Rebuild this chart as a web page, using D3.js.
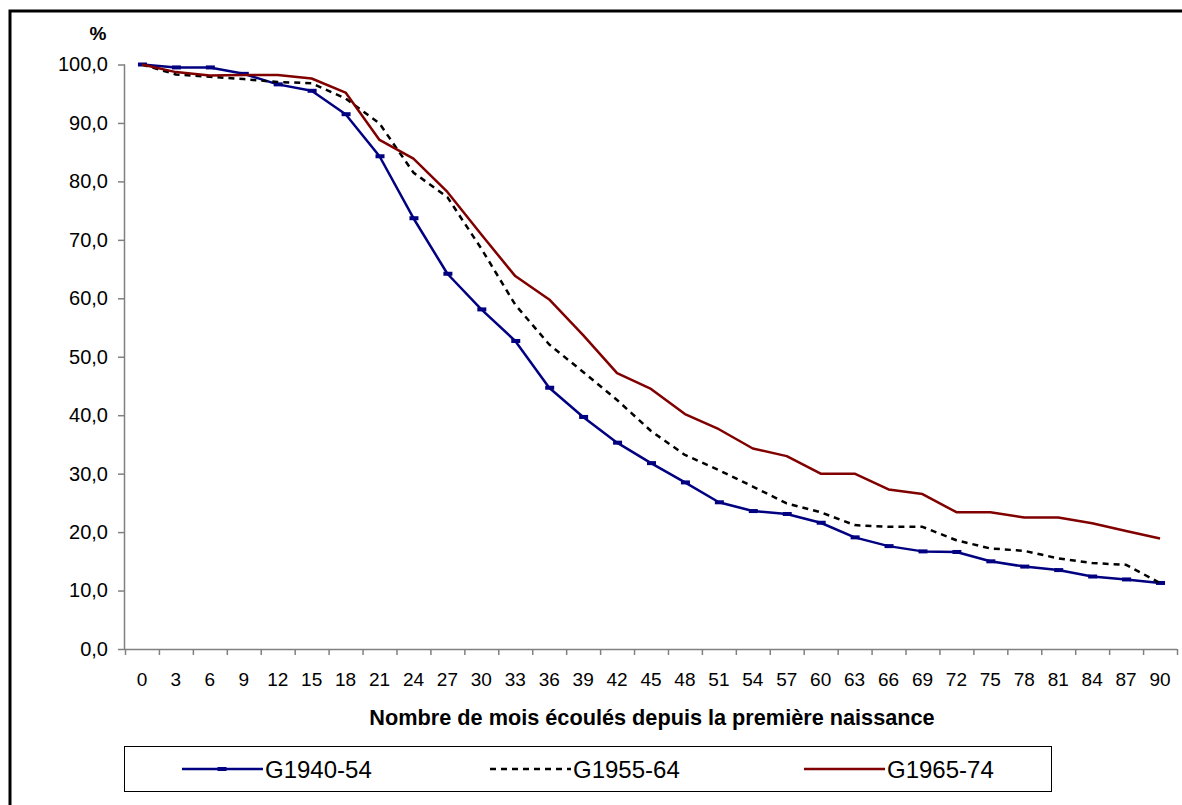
<!DOCTYPE html>
<html>
<head>
<meta charset="utf-8">
<script src="https://cdn.jsdelivr.net/npm/d3@7"></script>
<style>
  html, body { margin: 0; padding: 0; background: #fff; }
  svg { display: block; font-family: "Liberation Sans", Arial, sans-serif; }
</style>
</head>
<body>
<svg id="chart" width="1182" height="805"></svg>
<script>
const months = [0,3,6,9,12,15,18,21,24,27,30,33,36,39,42,45,48,51,54,57,60,63,66,69,72,75,78,81,84,87,90];
const g1940 = [100,99.5,99.5,98.4,96.6,95.5,91.5,84.3,73.7,64.2,58.1,52.7,44.7,39.7,35.3,31.8,28.5,25.1,23.6,23.1,21.6,19.1,17.6,16.7,16.6,15.0,14.1,13.5,12.4,11.9,11.3];
const g1955 = [100,98.3,97.9,97.5,97.0,96.8,94.2,89.9,81.5,77.3,68.5,58.9,52.1,47.4,42.6,37.3,33.2,30.6,27.8,24.9,23.4,21.2,20.9,20.9,18.6,17.2,16.8,15.5,14.7,14.4,11.3];
const g1965 = [100,98.7,98.1,98.2,98.2,97.6,95.2,87.1,83.9,78.2,70.9,63.8,59.8,53.7,47.2,44.5,40.2,37.6,34.3,33.0,30.0,30.0,27.3,26.5,23.4,23.4,22.5,22.5,21.5,20.2,18.9];
const yTicks = [0,10,20,30,40,50,60,70,80,90,100];
const seriesNames = ["G1940-54","G1955-64","G1965-74"];
const xTitle = "Nombre de mois écoulés depuis la première naissance";
const yUnit = "%";

const series = [
  {name: seriesNames[0], values: g1940, color: "#000080", dash: null, marker: true},
  {name: seriesNames[1], values: g1955, color: "#000000", dash: "6,5", marker: false},
  {name: seriesNames[2], values: g1965, color: "#800000", dash: null, marker: false}
];

const svg = d3.select("#chart");
const pLeft = 125, pRight = 1177, pTop = 64.5, pBottom = 649;

// outer frame
svg.append("rect").attr("x", 10).attr("y", 11).attr("width", 1300).attr("height", 1000)
  .attr("fill", "none").attr("stroke", "#000").attr("stroke-width", 3);

const x = d3.scaleBand().domain(months.map(String)).range([pLeft, pRight]).padding(0);
const xi = d3.scaleLinear().domain([0, months.length]).range([pLeft, pRight]);
const y = d3.scaleLinear().domain([0, 100]).range([pBottom, pTop]);

const loc = d3.formatLocale({decimal: ",", thousands: " ", grouping: [3], currency: ["", ""]});
const fmt = loc.format(".1f");

// Y axis
const yAxis = svg.append("g").attr("transform", `translate(${pLeft},0)`)
  .call(d3.axisLeft(y).tickValues(yTicks).tickFormat(fmt).tickSize(7).tickPadding(10));
yAxis.select(".domain").attr("stroke", "#808080").attr("stroke-width", 1.5).attr("d", `M-0.5,${pBottom}V${pTop}`);
yAxis.selectAll(".tick line").attr("stroke", "#808080").attr("stroke-width", 1.5);
yAxis.selectAll(".tick text").attr("font-size", 20).attr("fill", "#000")
  .attr("font-family", "Liberation Sans, Arial, sans-serif");

// X axis tick marks at category boundaries
const xTickAxis = svg.append("g").attr("transform", `translate(0,${pBottom})`)
  .call(d3.axisBottom(xi).tickValues(d3.range(months.length + 1)).tickFormat("").tickSize(6));
xTickAxis.select(".domain").attr("stroke", "#808080").attr("stroke-width", 1.5).attr("d", `M${pLeft},0.5H${pRight}`);
xTickAxis.selectAll(".tick line").attr("stroke", "#808080").attr("stroke-width", 1.5);

// X axis labels at category centres
const xLab = svg.append("g").attr("transform", `translate(0,${pBottom})`)
  .call(d3.axisBottom(x).tickSize(0).tickPadding(24));
xLab.select(".domain").remove();
xLab.selectAll(".tick text").attr("font-size", 19).attr("fill", "#000")
  .attr("font-family", "Liberation Sans, Arial, sans-serif");

// titles
svg.append("text").attr("x", 652).attr("y", 725)
  .attr("text-anchor", "middle").attr("font-weight", "bold").attr("font-size", 21.7)
  .text(xTitle);
svg.append("text").attr("x", 98).attr("y", 40)
  .attr("text-anchor", "middle").attr("font-weight", "bold").attr("font-size", 19)
  .text(yUnit);

// lines
const line = d3.line().x((d, i) => x(String(months[i])) + x.bandwidth() / 2).y(d => y(d));
series.forEach(s => {
  svg.append("path").datum(s.values).attr("d", line)
    .attr("fill", "none").attr("stroke", s.color).attr("stroke-width", 2.5)
    .attr("stroke-dasharray", s.dash).attr("stroke-linejoin", "round");
  if (s.marker) {
    svg.append("g").selectAll("rect").data(s.values).join("rect")
      .attr("x", (d, i) => x(String(months[i])) + x.bandwidth() / 2 - 4)
      .attr("y", d => y(d) - 2)
      .attr("width", 9).attr("height", 4).attr("fill", s.color);
  }
});

// legend
const lg = svg.append("g");
lg.append("rect").attr("x", 124.5).attr("y", 746.5).attr("width", 927).attr("height", 45)
  .attr("fill", "#fff").attr("stroke", "#000").attr("stroke-width", 1);
const legendX = [182, 490, 804];
series.forEach((s, i) => {
  const gx = legendX[i], gy = 769;
  lg.append("line").attr("x1", gx).attr("x2", gx + 81).attr("y1", gy).attr("y2", gy)
    .attr("stroke", s.color).attr("stroke-width", 2.5).attr("stroke-dasharray", s.dash);
  if (s.marker) {
    lg.append("rect").attr("x", gx + 40 - 4.5).attr("y", gy - 2).attr("width", 9).attr("height", 4).attr("fill", s.color);
  }
  lg.append("text").attr("x", gx + 83).attr("y", gy + 8.5).attr("font-size", 24).text(s.name);
});
</script>
</body>
</html>
